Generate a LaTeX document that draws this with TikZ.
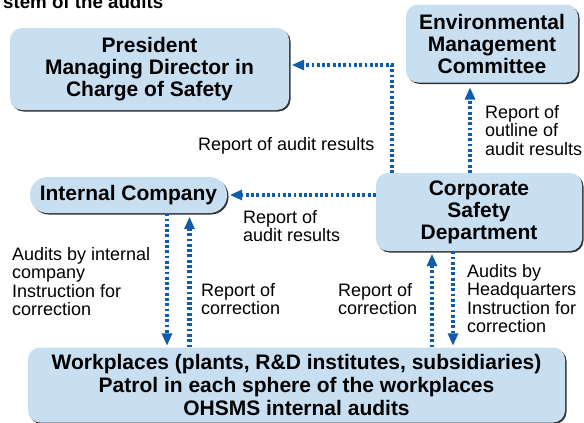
\documentclass[tikz,border=0pt]{standalone}
\usepackage{fontspec}
\setmainfont{Liberation Sans}
\usetikzlibrary{arrows.meta,calc,positioning,shadows}
\definecolor{paleblue}{RGB}{200,223,242}
\definecolor{auditblue}{RGB}{14,92,170}
\tikzset{
  unit/.style={
    rounded corners=12pt,
    fill=paleblue,
    general shadow={fill=black!80, shadow xshift=1.5pt, shadow yshift=-1.5pt},
    align=center,
    inner sep=0pt,
    font=\fontsize{21}{22}\selectfont\bfseries
  },
  note/.style={
    align=left,
    inner sep=0pt,
    anchor=north west,
    font=\fontsize{18}{18.5}\selectfont
  },
  arrow/.style={
    -{Triangle[width=11pt,length=12pt,line width=0pt]},
    line width=4.8pt,
    dash pattern=on 2.8pt off 2.5pt,
    auditblue
  }
}

\begin{document}
\begin{tikzpicture}[x=1pt,y=-1pt]
\useasboundingbox (0,0) rectangle (584,423);
\node[anchor=base west, inner sep=0pt, font=\fontsize{18.7}{20}\selectfont\bfseries] (title) at (3,9) {stem of the audits};
\node[unit, minimum width=279pt, minimum height=82pt] (pres) at (149.5,69) {President\\Managing Director in\\Charge of Safety};
\node[unit, minimum width=172pt, minimum height=78pt] (env) at (492,43.5) {Environmental\\Management\\Committee};
\node[unit, rounded corners=17.5pt, minimum width=197pt, minimum height=36pt] (intco) at (128.5,195) {Internal Company};
\node[unit, minimum width=206pt, minimum height=78pt] (corp) at (479,212) {Corporate\\Safety\\Department};
\node[unit, minimum width=537pt, minimum height=75pt, font=\fontsize{21}{23}\selectfont\bfseries] (work) at (296.5,385) {Workplaces (plants, R\&D institutes, subsidiaries)\\Patrol in each sphere of the workplaces\\OHSMS internal audits};

\draw[arrow, shorten >=3pt] ([xshift=-87pt]corp.north) |- ([yshift=4pt]pres.east);
\draw[arrow, shorten >=5pt] ([xshift=-22pt]env.south |- corp.north) -- ([xshift=-22pt]env.south);
\draw[arrow, shorten >=3pt] (corp.west |- intco.east) -- (intco.east);
\draw[arrow, shorten >=2pt] ([xshift=38.5pt]intco.south) -- ([xshift=38.5pt]intco.south |- work.north);
\draw[arrow, shorten >=4pt] ([xshift=61pt]intco.south |- work.north) -- ([xshift=61pt]intco.south);
\draw[arrow, shorten >=3pt] ([xshift=-47pt]corp.south |- work.north) -- ([xshift=-47pt]corp.south);
\draw[arrow, shorten >=2pt] ([xshift=-26pt]corp.south) -- ([xshift=-26pt]corp.south |- work.north);

\node[note] (resA) at (198,137) {Report of audit results};
\node[note] (resB) at (485,105) {Report of\\outline of\\audit results};
\node[note] (resC) at (243,210) {Report of\\audit results};
\node[note] (audA) at (12,247) {Audits by internal\\company\\Instruction for\\correction};
\node[note] (corA) at (201,283) {Report of\\correction};
\node[note] (corB) at (338,283) {Report of\\correction};
\node[note] (audB) at (467,264) {Audits by\\Headquarters\\Instruction for\\correction};
\end{tikzpicture}
\end{document}
